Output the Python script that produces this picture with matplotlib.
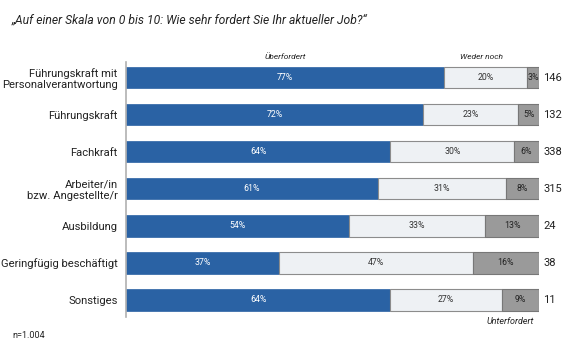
import numpy as np
import matplotlib
matplotlib.use("AGG")
import matplotlib.pyplot as plt

plt.rcParams['font.family'] = ['Roboto', 'DejaVu Sans']

categories = ["Führungskraft mit\nPersonalverantwortung", "Führungskraft", "Fachkraft",
              "Arbeiter/in\nbzw. Angestellte/r", "Ausbildung", "Geringfügig beschäftigt",
              "Sonstiges"]
ueberfordert = [77, 72, 64, 61, 54, 37, 64]
weder_noch = [20, 23, 30, 31, 33, 47, 27]
unterfordert = [3, 5, 6, 8, 13, 16, 9]
n_values = [146, 132, 338, 315, 24, 38, 11]

blue = '#2a62a4'
light = '#eef1f4'
dark = '#9a9a9a'
edge = '#8c8c8c'

fig = plt.figure(figsize=[5.8, 3.48], dpi=100)
ax = fig.add_axes([126 / 580, 1 - 317 / 348, 413 / 580, 255 / 348])

y = np.arange(len(categories))
h = 0.57
u = np.array(ueberfordert)
w = np.array(weder_noch)
d = np.array(unterfordert)

ax.barh(y, u, height=h, color=blue, edgecolor=blue, lw=0.5)
ax.barh(y, w, left=u, height=h, color=light, edgecolor=edge, lw=0.8)
ax.barh(y, d, left=u + w, height=h, color=dark, edgecolor='#777777', lw=0.8)

for i in range(len(categories)):
    ax.text(u[i] / 2, y[i], f"{u[i]}%", ha='center', va='center', fontsize=6.3, color='white')
    ax.text(u[i] + w[i] / 2, y[i], f"{w[i]}%", ha='center', va='center', fontsize=6.3, color='#333333')
    ax.text(u[i] + w[i] + d[i] / 2, y[i], f"{d[i]}%", ha='center', va='center', fontsize=6.3, color='#222222')
    ax.text(101, y[i], str(n_values[i]), ha='left', va='center', fontsize=8, color='#222222')

ax.set_xlim(0, 100)
ax.set_ylim(6.46, -0.43)
ax.set_yticks(y)
ax.set_yticklabels(categories, fontsize=8.1, color='#222222', linespacing=1.1)
ax.tick_params(axis='y', length=0, pad=6)
ax.set_xticks([])
for s in ['top', 'right', 'bottom']:
    ax.spines[s].set_visible(False)
ax.spines['left'].set_color('#b0b0b0')
ax.spines['left'].set_linewidth(1.2)

fig.text(12 / 580, 1 - 20 / 348, "„Auf einer Skala von 0 bis 10: Wie sehr fordert Sie Ihr aktueller Job?“",
         fontsize=8.7, style='italic', color='#222222', va='center', ha='left')
fig.text(285 / 580, 1 - 57 / 348, "Überfordert", fontsize=6, style='italic', color='#222222',
         ha='center', va='center')
fig.text(482 / 580, 1 - 57 / 348, "Weder noch", fontsize=6, style='italic', color='#222222',
         ha='center', va='center')
fig.text(510 / 580, 1 - 322 / 348, "Unterfordert", fontsize=6.5, style='italic', color='#222222',
         ha='center', va='center')
fig.text(12 / 580, 1 - 336 / 348, "n=1.004", fontsize=6.5, color='#222222', ha='left', va='center')

fig.savefig("out.png", dpi=100, facecolor='white')
